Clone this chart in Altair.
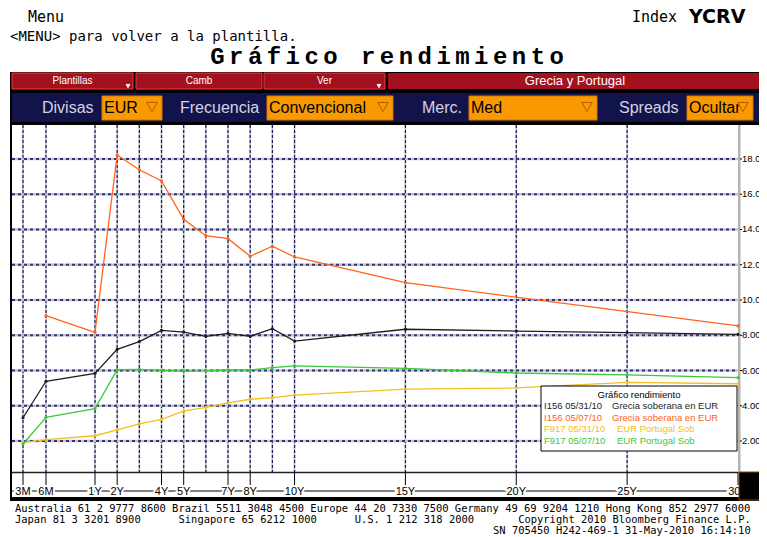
import altair as alt
import pandas as pd

# ---------------- data ----------------
tenor_years = [0.25, 0.5, 1, 2, 3, 4, 5, 6, 7, 8, 9, 10, 15, 20, 25, 30]
grc_0531 = [3.32, 5.39, 5.84, 7.20, 7.64, 8.28, 8.18, 7.94, 8.11, 7.94, 8.37, 7.67, 8.34, 8.24, 8.15, 8.05]
grc_0507_tenors = [0.5, 1, 2, 3, 4, 5, 6, 7, 8, 9, 10, 15, 30]
grc_0507 = [9.11, 8.17, 18.22, 17.39, 16.75, 14.58, 13.65, 13.48, 12.48, 13.05, 12.44, 10.98, 8.53]
prt_0531 = [1.91, 2.08, 2.30, 2.63, 2.97, 3.23, 3.70, 3.91, 4.17, 4.37, 4.46, 4.61, 4.95, 5.01, 5.33, 5.25]
prt_0507 = [1.83, 3.35, 3.84, 6.05, 6.07, 6.01, 5.97, 5.98, 6.03, 6.03, 6.16, 6.26, 6.12, 5.86, 5.75, 5.60]

series_codes = ["I156 05/31/10", "I156 05/07/10", "F917 05/31/10", "F917 05/07/10"]
series_names = ["Grecia soberana en EUR", "Grecia soberana en EUR", "EUR Portugal Sob", "EUR Portugal Sob"]
series_colors = ["#1e1e1e", "#ff6418", "#f0c020", "#3cc83c"]

x_tick_tenors = [0.25, 0.5, 1, 2, 4, 5, 7, 8, 10, 15, 20, 25, 30]
x_tick_labels = ["3M", "6M", "1Y", "2Y", "4Y", "5Y", "7Y", "8Y", "10Y", "15Y", "20Y", "25Y", "30Y"]
x_grid_tenors = [0.25, 0.5, 1, 2, 3, 4, 5, 6, 7, 8, 9, 10, 15, 20, 25]
y_ticks = [2, 4, 6, 8, 10, 12, 14, 16, 18]

header_left = "Menu"
header_hint = "<MENU> para volver a la plantilla."
header_index = "Index"
header_ticker = "YCRV"
title_text = "Gráfico rendimiento"
toolbar_buttons = ["Plantillas", "Camb", "Ver"]
toolbar_group = "Grecia y Portugal"
field_labels = ["Divisas", "Frecuencia", "Merc.", "Spreads"]
field_values = ["EUR", "Convencional", "Med", "Ocultar"]
footer_line1 = "Australia 61 2 9777 8600 Brazil 5511 3048 4500 Europe 44 20 7330 7500 Germany 49 69 9204 1210 Hong Kong 852 2977 6000"
footer_line2 = ["Japan 81 3 3201 8900", "Singapore 65 6212 1000", "U.S. 1 212 318 2000", "Copyright 2010 Bloomberg Finance L.P."]
footer_line3 = "SN 705450 H242-469-1 31-May-2010 16:14:10"

# ---------------- layout helpers ----------------
O = 8  # page margin
W, H = 751, 529
one = pd.DataFrame({"k": [0]})
MONO = "DejaVu Sans Mono"
SANS = "Liberation Sans"


def rect(x1, y1, x2, y2, fill, stroke=None, sw=1):
    kw = dict(fill=fill)
    if stroke:
        kw.update(stroke=stroke, strokeWidth=sw)
    return alt.Chart(one).mark_rect(**kw).encode(
        x=alt.value(x1 - O), x2=alt.value(x2 - O), y=alt.value(y1 - O), y2=alt.value(y2 - O))


def hrule(x1, x2, y, color, sw=1):
    return alt.Chart(one).mark_rule(color=color, strokeWidth=sw).encode(
        x=alt.value(x1 - O), x2=alt.value(x2 - O), y=alt.value(y - O))


def txt(s, x, y, size, color="black", font=SANS, weight="normal", align="left", baseline="middle"):
    return alt.Chart(one).mark_text(text=s, fontSize=size, color=color, font=font, fontWeight=weight,
                                    align=align, baseline=baseline).encode(x=alt.value(x - O), y=alt.value(y - O))


def spaced(s, x_first, pitch, y, size, font, weight="bold", color="black"):
    out = []
    for i, ch in enumerate(s):
        if ch != " ":
            out.append(txt(ch, x_first + i * pitch, y, size, color=color, font=font, weight=weight, align="center"))
    return out


def tri(x, y, size, fill, stroke):
    return alt.Chart(one).mark_point(shape="triangle-down", size=size, filled=True, fill=fill, stroke=stroke,
                                     strokeWidth=1, opacity=1).encode(x=alt.value(x - O), y=alt.value(y - O))


# scales: page x 23/46/95/738 for 3M/6M/1Y/30Y ; y 0 -> 476.3, 17.63 px per unit
xscale = alt.Scale(domain=[0.25, 0.5, 1, 30], range=[23 - O, 46 - O, 95 - O, 738 - O])
yscale = alt.Scale(domain=[0, 20], range=[476.3 - O, 476.3 - 20 * 17.63 - O])
X = alt.X("t:Q", scale=xscale, axis=None)
Y = alt.Y("v:Q", scale=yscale, axis=None)

layers = []

# header
layers.append(txt(header_left, 28, 17, 15, font=MONO))
layers.append(txt(header_hint, 10, 36.5, 14, font=MONO))
layers.append(txt(header_index, 632, 17, 15, font=MONO))
layers.append(txt(header_ticker, 689, 17, 19, font="DejaVu Sans", weight="bold"))
layers += spaced(title_text, 217.4, 18.85, 56.5, 24, "Liberation Mono")

# frame + toolbar
layers.append(rect(10, 72, 765, 125, "black"))
btn_x = [(12, 133), (136, 262), (264, 385)]
for (a, b), lab in zip(btn_x, toolbar_buttons):
    layers.append(rect(a, 73, b, 89, "#a3111f", stroke="#f03a3a"))
    layers.append(txt(lab, (a + b) / 2, 81, 10, color="white", align="center"))
layers.append(tri(128, 86, 14, "white", "white"))
layers.append(tri(379, 86, 14, "white", "white"))
layers.append(rect(388, 73, 763, 89, "#a3111f"))
layers.append(txt(toolbar_group, 575, 81, 13, color="white", align="center"))

layers.append(rect(12, 93, 763, 122, "#13134b"))
lab_x = [42, 180, 422, 619]
boxes = [(102, 162), (267, 393), (469, 597), (687, 753)]
for lx, lab, (a, b), val in zip(lab_x, field_labels, boxes, field_values):
    layers.append(txt(lab, lx, 108, 16, color="#d4d4e0"))
    layers.append(rect(a, 96, b, 120, "#f89a00", stroke="#d07800"))
    layers.append(txt(val, a + 2, 108, 16, color="black"))
    layers.append(tri(b - 10, 107, 110, "#f89a00", "#b85a00"))

# plot frame
layers.append(rect(10, 125, 767, 501, "black"))
layers.append(rect(12, 125, 767, 497, "white"))

# grid
gy = pd.DataFrame({"v": y_ticks})
gx = pd.DataFrame({"t": x_grid_tenors})
layers.append(alt.Chart(gx).mark_rule(color="#bcbccc", strokeWidth=1.6).encode(
    x=X, y=alt.value(125 - O), y2=alt.value(472 - O)))
layers.append(alt.Chart(gx).mark_rule(color="#1c1c5c", strokeWidth=1.2, strokeDash=[3, 2]).encode(
    x=X, y=alt.value(125 - O), y2=alt.value(472 - O)))
layers.append(alt.Chart(gy).mark_rule(color="#c2c2ce", strokeWidth=2.6).encode(
    y=Y, x=alt.value(12 - O), x2=alt.value(738 - O)))
layers.append(alt.Chart(gy).mark_rule(color="#34347a", strokeWidth=2.0, strokeDash=[3, 3]).encode(
    y=Y, x=alt.value(12 - O), x2=alt.value(738 - O)))

# right gray bar, y ticks and labels
layers.append(rect(738, 125, 740.5, 472, "#b4b4b4"))
layers.append(alt.Chart(gy).mark_rule(color="black", strokeWidth=1).encode(
    y=Y, x=alt.value(740 - O), x2=alt.value(742 - O)))
layers.append(alt.Chart(gy).transform_calculate(lab="format(datum.v, '.2f')").mark_text(
    align="left", baseline="middle", fontSize=9.5, font=SANS, color="black").encode(
    y=Y, x=alt.value(742 - O), text="lab:N"))

# series
series_data = [
    (tenor_years, prt_0531, series_colors[2]),
    (tenor_years, prt_0507, series_colors[3]),
    (grc_0507_tenors, grc_0507, series_colors[1]),
    (tenor_years, grc_0531, series_colors[0]),
]
for ten, vals, col in series_data:
    d = pd.DataFrame({"t": ten, "v": vals})
    base = alt.Chart(d).encode(x=X, y=Y)
    layers.append(base.mark_line(color=col, strokeWidth=1.3))
    layers.append(base.mark_circle(color=col, size=10, opacity=1))

# legend
layers.append(rect(541, 386, 737, 451, "white", stroke="black"))
layers.append(txt(title_text, 639, 395, 9.5, align="center"))
row_y = [406, 417.5, 429, 440.5]
name_x = [612, 612, 617, 617]
for code, name, col, yy, nx in zip(series_codes, series_names, series_colors, row_y, name_x):
    layers.append(txt(code, 544, yy, 9.5, color=col))
    layers.append(txt(name, nx, yy, 9.5, color=col))

# x axis
layers.append(hrule(12, 738, 472.5, "#222222", 1.5))
layers.append(hrule(12, 738, 491, "black", 1))
gt = pd.DataFrame({"t": x_tick_tenors, "lab": x_tick_labels})
layers.append(alt.Chart(gt).mark_rule(color="black", strokeWidth=1).encode(
    x=X, y=alt.value(472 - O), y2=alt.value(485 - O)))
layers.append(alt.Chart(gt).mark_text(fontSize=11, font=SANS, color="white", stroke="white", strokeWidth=4,
                                      baseline="middle", align="center").encode(
    x=X, y=alt.value(491.5 - O), text="lab:N"))
layers.append(alt.Chart(gt).mark_text(fontSize=11, font=SANS, color="black",
                                      baseline="middle", align="center").encode(
    x=X, y=alt.value(491.5 - O), text="lab:N"))
layers.append(rect(739, 472, 767, 500, "black", stroke="#8a4a10"))

# footer
cw = 6.29
layers.append(txt(footer_line1, 15, 509, 10.45, font=MONO))
for col_idx, seg in zip([0, 26, 54, 80], footer_line2):
    layers.append(txt(seg, 15 + col_idx * cw, 520, 10.45, font=MONO))
layers.append(txt(footer_line3, 15 + 76 * cw, 531, 10.45, font=MONO))

chart = alt.layer(*layers).properties(
    width=W, height=H, padding=0, background="white",
    autosize=alt.AutoSizeParams(type="none"),
).configure_view(stroke=None)

chart.save("out.html", embed_options={"renderer": "svg", "actions": False})
